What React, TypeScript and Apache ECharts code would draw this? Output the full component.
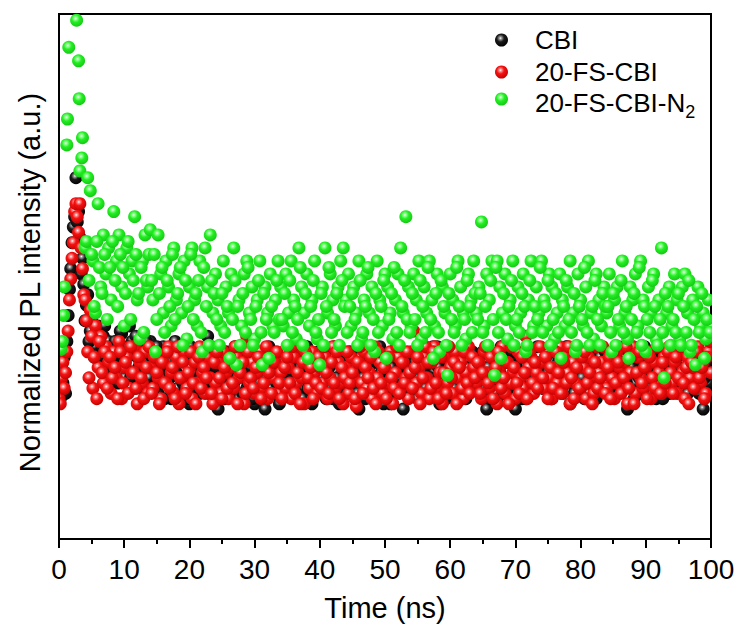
import React, { useEffect, useRef } from "react";
import * as echarts from "echarts";

// ---------- data ----------
const SERIES_NAMES = ["CBI", "20-FS-CBI", "20-FS-CBI-N2"];
const X_TICKS = [0, 10, 20, 30, 40, 50, 60, 70, 80, 90, 100];

// plateau sampling (ns): set A starts at 4.0 ns, set B at 4.2 ns, both every 0.4 ns
const PLATEAU_A_T0 = 4.0;
const PLATEAU_B_T0 = 4.2;
const PLATEAU_STEP = 0.4;

// early (rise) points [time ns, normalized intensity]
const CBI_EARLY = [
  [0, 29], [0.2, 27], [0.4, 33], [0.6, 30], [0.8, 35], [1.0, 28], [1.2, 38], [1.4, 43], [1.6, 48], [1.8, 52],
  [2.0, 57], [2.2, 60], [2.4, 62], [2.6, 69.5], [2.8, 61], [3.0, 63], [3.2, 58], [3.4, 51], [3.6, 54], [3.8, 49],
];
const FS_EARLY = [
  [0, 27], [0.2, 26], [0.4, 31], [0.6, 34], [0.8, 29], [1.0, 32], [1.2, 36], [1.4, 40], [1.6, 46], [1.8, 50],
  [2.0, 54], [2.2, 57], [2.4, 63], [2.6, 64.5], [2.8, 62], [3.0, 59], [3.2, 64.5], [3.4, 56], [3.6, 52], [3.8, 47],
];
const N2_EARLY = [
  [0.3, 36.5], [0.5, 38], [0.7, 43], [0.8, 48.5], [1.2, 75.8], [1.3, 80.8], [1.5, 94.6],
  [2.7, 99.8], [3.0, 92], [3.1, 84.7], [3.2, 70.8], [3.5, 73.3], [3.6, 77.2],
];

// set A: 4.0 ns .. 100.0 ns
const CBI_A = [
  42, 47, 40, 44, 37, 41, 35, 39, 33, 38, 36, 32, 38, 34, 39.5, 31, 36, 41, 38, 29, 35, 32, 37, 30, 34,
  38, 31, 35, 28, 33, 37, 30, 34, 27, 36, 32, 29, 35, 31, 38, 26, 33, 30, 36, 28, 34, 31, 39, 30, 33,
  29, 25, 34, 31, 36, 28, 33, 30, 35, 27, 32, 37, 29, 34, 31, 26, 35, 30, 33, 25, 36, 29, 32, 28, 34,
  31, 35, 28, 33, 30, 36, 27, 34, 32, 29, 37, 31, 26, 35, 30, 33, 28, 36, 31, 34, 27, 32, 35, 29, 33,
  30, 34, 28, 36, 31, 25, 33, 29, 35, 32, 27, 34, 30, 37, 28, 33, 31, 26, 35, 29, 32, 36, 25, 33, 30,
  34, 29, 36, 31, 27, 33, 30, 35, 28, 32, 37, 26, 34, 31, 29, 35, 33, 28, 36, 30, 32, 27, 34, 31, 35,
  31, 35, 28, 33, 25, 36, 30, 34, 27, 32, 37, 29, 34, 31, 28, 25, 35, 30, 33, 27, 36, 32, 29, 34, 31,
  33, 29, 36, 31, 27, 34, 30, 35, 28, 32, 37, 26, 33, 30, 35, 29, 31, 34, 28, 36, 32, 27, 35, 30, 33,
  30, 34, 28, 36, 32, 29, 35, 31, 25, 33, 37, 30, 34, 28, 32, 36, 29, 33, 31, 27, 35, 30, 34, 32, 28,
  33, 30, 35, 36.5, 31, 36.5, 28, 36, 32, 29, 34, 31, 25, 33, 30, 35,
];
const FS_A = [
  46, 36, 44, 29, 41, 33, 39, 30, 37, 34, 28, 36, 31, 38, 27, 33, 35, 29, 32, 37, 26, 34, 30, 36, 28,
  33, 29, 36, 31, 27, 34, 30, 37, 32, 28, 35, 26, 31, 36, 29, 33, 27, 34, 30, 37, 32, 28, 35, 31, 26,
  30, 34, 28, 36, 32, 27, 33, 29, 35, 31, 37, 26, 39, 30, 34, 28, 32, 36, 29, 33, 27, 35, 31, 34, 28,
  32, 36, 29, 33, 27, 35, 30, 37, 31, 26, 34, 29, 36, 32, 28, 33, 30, 35, 27, 31, 37, 29, 34, 30, 26,
  33, 28, 35, 31, 25.5, 34, 30, 36, 29, 32, 27, 37, 31, 34, 28, 33, 30, 36, 26, 32, 35, 29, 34, 31, 27,
  36, 40, 30, 33, 28, 35, 31, 27, 34, 37, 29, 32, 26, 35, 30, 33, 28, 36, 31, 34, 27, 32, 37, 29, 33,
  30, 34, 27, 36, 32, 29, 35, 31, 26, 33, 37, 28, 34, 30, 32, 27, 36, 31, 29, 39, 33, 35, 28, 32, 30,
  34, 29, 36, 31, 27, 33, 30, 37, 28, 35, 32, 26, 34, 30, 36, 29, 33, 27, 35, 31, 28, 37, 32, 34, 30,
  29, 35, 31, 27, 36, 33, 30, 34, 26, 32, 37, 28, 35, 31, 29, 33, 36, 27, 34, 30, 32, 28, 35, 31, 37,
  30, 34, 28, 36, 32, 27, 35, 31, 33, 29, 37, 30, 34, 28, 36, 32,
];
const N2_A = [
  56, 69.5, 67, 53.5, 43.5, 64.5, 48.5, 58.5, 51, 56, 46, 63, 53.5, 58.5, 48.5, 41, 56, 51, 53.5, 62, 46, 38.5, 53.5, 58.5, 48.5,
  59.5, 46, 36, 58.5, 51, 43.5, 53.5, 48.5, 41, 56, 46, 51, 43.5, 53.5, 38.5, 48.5, 56, 46, 41, 53.5, 36, 56, 48.5, 58.5, 43.5,
  51, 46, 41, 53.5, 48.5, 43.5, 51, 56, 33.5, 46, 41, 51, 53.5, 43.5, 48.5, 38.5, 46, 53.5, 33.5, 48.5, 43.5, 51, 41, 46, 53.5,
  48.5, 41, 51, 43.5, 53.5, 46, 38.5, 56, 48.5, 43.5, 51, 41, 46, 53.5, 38.5, 33.5, 48.5, 56, 43.5, 51, 46, 41, 48.5, 53.5, 56,
  46, 51, 41, 48.5, 43.5, 53.5, 38.5, 46, 51, 43.5, 48.5, 36, 53.5, 46, 41, 51, 48.5, 43.5, 38.5, 46, 51, 56, 43.5, 62, 48.5,
  41, 51, 46, 53.5, 38.5, 48.5, 43.5, 53.5, 46, 41, 51, 36, 48.5, 43.5, 31.5, 51, 46, 41, 53.5, 48.5, 43.5, 38.5, 51, 46, 53.5,
  43.5, 48.5, 61, 41, 51, 46, 53.5, 31.5, 53.5, 48.5, 43.5, 51, 38.5, 46, 53.5, 41, 48.5, 43.5, 51, 36, 46, 53.5, 41, 48.5, 43.5,
  53.5, 46, 41, 51, 48.5, 38.5, 43.5, 51, 46, 41, 48.5, 53.5, 43.5, 36, 51, 46, 41, 48.5, 53.5, 43.5, 38.5, 51, 46, 41, 48.5,
  43.5, 51, 36, 46, 48.5, 41, 53.5, 43.5, 38.5, 48.5, 46, 51, 41, 53.5, 46, 36, 48.5, 43.5, 51, 38.5, 46, 56, 31, 43.5, 48.5,
  41, 51, 46, 38.5, 48.5, 51, 43.5, 36, 46, 33.5, 48.5, 41, 43.5, 38.5, 46, 41,
];

// set B: 4.2 ns .. 99.8 ns
const CBI_B = [
  45, 38, 42, 35, 40, 33, 37, 41, 31, 36, 34, 38, 30, 40, 35, 33, 37, 31, 36, 39, 33, 29, 36, 38, 31,
  35, 29, 37, 32, 34, 27, 36, 31, 33, 38, 29, 35, 30, 34, 27, 37, 32, 29, 35, 31, 36, 33, 28, 37, 30,
  33, 36, 30, 27, 35, 32, 29, 37, 31, 34, 28, 36, 30, 33, 27, 35, 32, 29, 34, 31, 37, 28, 35, 30, 26,
  34, 30, 36, 32, 28, 35, 31, 33, 27, 37, 29, 34, 32, 28, 36, 30, 35, 27, 33, 29, 37, 31, 26, 34, 30,
  32, 36, 29, 33, 28, 35, 31, 27, 37, 30, 34, 29, 36, 32, 26, 35, 30, 33, 28, 37, 31, 34, 29, 35, 32,
  30, 34, 27, 36, 32, 29, 35, 31, 37, 28, 33, 30, 36, 27, 34, 31, 29, 35, 32, 37, 28, 33, 30, 36, 29,
  34, 31, 36, 29, 33, 27, 35, 32, 30, 37, 28, 34, 31, 36, 29, 33, 30, 27, 35, 32, 28, 34, 31, 37, 30,
  29, 35, 32, 27, 36, 31, 34, 29, 33, 37, 30, 35, 28, 32, 36, 31, 27, 34, 30, 37, 33, 29, 35, 31, 36,
  32, 28, 35, 31, 37, 29, 34, 30, 36, 33, 27, 35, 31, 29, 37, 32, 34, 28, 36, 30, 33, 27, 35, 31, 34,
  30, 36, 33, 37, 31, 36.5, 34, 36, 30, 33, 28, 35, 31, 34, 36,
];
const FS_B = [
  42, 31, 39, 35, 27, 38, 32, 36, 29, 35, 31, 33, 27, 36, 30, 34, 28, 37, 32, 29, 35, 31, 27, 33, 37,
  28, 35, 32, 26, 34, 30, 36, 29, 33, 27, 37, 31, 34, 28, 32, 36, 30, 26, 35, 29, 33, 31, 37, 28, 34,
  36, 31, 27, 33, 29, 35, 30, 37, 26, 32, 34, 28, 36, 31, 29, 33, 35, 27, 30, 37, 32, 28, 34, 36, 30,
  27, 33, 35, 30, 37, 28, 32, 26, 34, 36, 31, 33, 27, 30, 35, 29, 37, 32, 28, 34, 30, 36, 27, 33, 31,
  36, 30, 32, 27, 34, 37, 28, 33, 31, 35, 29, 26, 36, 30, 33, 27, 35, 31, 29, 37, 28, 34, 30, 36, 32,
  29, 33, 35, 26, 31, 37, 34, 29, 36, 30, 27, 35, 32, 28, 37, 31, 34, 26, 33, 29, 36, 30, 28, 35, 31,
  34, 28, 32, 37, 30, 35, 27, 33, 36, 29, 31, 34, 26, 37, 33, 30, 28, 35, 32, 27, 36, 30, 34, 29, 37,
  31, 35, 27, 33, 29, 36, 32, 28, 34, 30, 37, 31, 27, 33, 29, 35, 36, 30, 32, 26, 34, 29, 31, 37, 28,
  33, 27, 36, 30, 34, 28, 31, 37, 29, 35, 26, 32, 36, 30, 33, 27, 35, 31, 29, 37, 28, 34, 30, 36, 32,
  28, 35, 31, 37, 30, 33, 26, 34, 29, 36, 31, 33, 27, 35, 38,
];
const N2_B = [
  57.25, 49.75, 54.75, 44.75, 57.25, 52.25, 47.25, 54.75, 42.25, 52.25, 57.25, 49.75, 44.75, 54.75, 52.25, 47.25, 57.25, 42.25, 49.75, 54.75, 47.25, 52.25, 39.75, 49.75, 54.75,
  49.75, 54.75, 42.25, 47.25, 52.25, 39.75, 49.75, 44.75, 54.75, 42.25, 47.25, 52.25, 37.25, 49.75, 44.75, 54.75, 42.25, 47.25, 49.75, 39.75, 52.25, 44.75, 37.25, 49.75, 47.25,
  42.25, 37.25, 47.25, 39.75, 44.75, 34.75, 42.25, 49.75, 44.75, 37.25, 47.25, 39.75, 52.25, 42.25, 37.25, 44.75, 49.75, 39.75, 47.25, 42.25, 34.75, 44.75, 39.75, 49.75, 42.25,
  42.25, 47.25, 37.25, 49.75, 39.75, 44.75, 42.25, 52.25, 37.25, 47.25, 34.75, 44.75, 49.75, 39.75, 42.25, 47.25, 37.25, 44.75, 52.25, 39.75, 42.25, 47.25, 37.25, 49.75, 44.75,
  39.75, 44.75, 47.25, 42.25, 37.25, 49.75, 39.75, 44.75, 52.25, 37.25, 42.25, 47.25, 39.75, 44.75, 49.75, 34.75, 42.25, 47.25, 52.25, 39.75, 37.25, 44.75, 49.75, 42.25, 39.75,
  47.25, 42.25, 37.25, 49.75, 44.75, 39.75, 52.25, 42.25, 34.75, 47.25, 39.75, 49.75, 44.75, 37.25, 47.25, 42.25, 39.75, 52.25, 44.75, 37.25, 42.25, 49.75, 44.75, 39.75, 47.25,
  42.25, 47.25, 39.75, 44.75, 37.25, 49.75, 42.25, 52.25, 39.75, 34.75, 47.25, 42.25, 44.75, 49.75, 37.25, 42.25, 39.75, 47.25, 44.75, 37.25, 49.75, 39.75, 44.75, 42.25, 52.25,
  39.75, 44.75, 49.75, 37.25, 42.25, 47.25, 39.75, 34.75, 44.75, 49.75, 42.25, 39.75, 47.25, 37.25, 44.75, 42.25, 52.25, 39.75, 37.25, 44.75, 49.75, 42.25, 37.25, 47.25, 44.75,
  44.75, 39.75, 47.25, 37.25, 42.25, 49.75, 39.75, 44.75, 34.75, 42.25, 47.25, 39.75, 52.25, 37.25, 44.75, 42.25, 39.75, 49.75, 44.75, 37.25, 42.25, 39.75, 47.25, 44.75, 37.25,
  42.25, 39.75, 47.25, 37.25, 44.75, 39.75, 49.75, 37.25, 42.25, 44.75, 39.75, 47.25, 34.75, 42.25, 39.75,
];

const FONT = "'Liberation Sans', Arial, Helvetica, sans-serif";

function sampled(values: number[], t0: number) {
  return values.map((v, i) => [Math.round((t0 + PLATEAU_STEP * i) * 10) / 10, v]);
}
function buildSeriesData(early: number[][], a: number[], b: number[]) {
  return [...early, ...sampled(a, PLATEAU_A_T0), ...sampled(b, PLATEAU_B_T0)];
}

function sphere(stops: [number, string][]) {
  return new echarts.graphic.RadialGradient(
    0.42,
    0.36,
    0.68,
    stops.map(([offset, color]) => ({ offset, color }))
  );
}

export default function App() {
  const ref = useRef<HTMLDivElement>(null);

  useEffect(() => {
    if (!ref.current) return;
    const chart = echarts.init(ref.current, null, { renderer: "svg" });

    const colBlack = sphere([
      [0, "#ffffff"],
      [0.14, "#9a9a9a"],
      [0.42, "#1a1a1a"],
      [1, "#000000"],
    ]);
    const colRed = sphere([
      [0, "#ffffff"],
      [0.16, "#ff8a8a"],
      [0.42, "#f51212"],
      [1, "#c00000"],
    ]);
    const colGreen = sphere([
      [0, "#f0fff0"],
      [0.18, "#8aff8a"],
      [0.45, "#22ee22"],
      [1, "#16c416"],
    ]);
    const colors = [colBlack, colRed, colGreen];
    const datas = [
      buildSeriesData(CBI_EARLY, CBI_A, CBI_B),
      buildSeriesData(FS_EARLY, FS_A, FS_B),
      buildSeriesData(N2_EARLY, N2_A, N2_B),
    ];

    const legendText = {
      fontSize: 26,
      fontFamily: FONT,
      color: "#000",
      lineHeight: 26,
      padding: [0, 0, 0, 22],
    };
    const legendCenters = [35, 67, 99];
    const baseLegend = {
      left: 490,
      icon: "circle",
      itemWidth: 13,
      itemHeight: 13,
      selectedMode: false,
      textStyle: legendText,
    };

    const option: any = {
      animation: false,
      backgroundColor: "#ffffff",
      grid: {
        left: 59,
        right: 29,
        top: 14,
        bottom: 95,
        show: true,
        borderColor: "#000",
        borderWidth: 2,
        backgroundColor: "transparent",
      },
      graphic: [
        { type: "rect", z: 6, silent: true, shape: { x: 0, y: 0, width: 58, height: 539 }, style: { fill: "#fff" } },
        { type: "rect", z: 6, silent: true, shape: { x: 712, y: 0, width: 28, height: 539 }, style: { fill: "#fff" } },
      ],
      legend: [
        { ...baseLegend, data: [SERIES_NAMES[0]], top: legendCenters[0] - 13 },
        { ...baseLegend, data: [SERIES_NAMES[1]], top: legendCenters[1] - 13 },
        {
          ...baseLegend,
          data: [SERIES_NAMES[2]],
          top: legendCenters[2] - 18,
          formatter: () => "{m|20-FS-CBI-N}{s|2}",
          textStyle: {
            ...legendText,
            lineHeight: undefined,
            rich: {
              m: { fontSize: 26, fontFamily: FONT, color: "#000", lineHeight: 26, padding: [4, 0, 4, 0], verticalAlign: "top" },
              s: { fontSize: 18, fontFamily: FONT, color: "#000", lineHeight: 18, padding: [17, 0, 0, 0], verticalAlign: "top" },
            },
          },
        },
      ],
      xAxis: {
        type: "value",
        z: 10,
        min: X_TICKS[0],
        max: X_TICKS[X_TICKS.length - 1],
        interval: 10,
        name: "Time (ns)",
        nameLocation: "middle",
        nameGap: 54,
        nameTextStyle: { fontSize: 29, fontFamily: FONT, color: "#000" },
        axisLine: { show: true, lineStyle: { color: "#000", width: 2 } },
        axisTick: { show: true, inside: false, length: 9, lineStyle: { color: "#000", width: 2 } },
        minorTick: { show: true, splitNumber: 2, length: 5, lineStyle: { color: "#000", width: 2 } },
        axisLabel: { fontSize: 28, fontFamily: FONT, color: "#000", margin: 16 },
        splitLine: { show: false },
      },
      yAxis: {
        type: "value",
        z: 10,
        min: 0,
        max: 101,
        name: "Normalized PL intensity (a.u.)",
        nameLocation: "middle",
        nameGap: 15,
        nameTextStyle: { fontSize: 29, fontFamily: FONT, color: "#000", padding: [0, 12, 0, 0] },
        axisLine: { show: true, lineStyle: { color: "#000", width: 2 } },
        axisTick: { show: false },
        axisLabel: { show: false },
        splitLine: { show: false },
      },
      series: SERIES_NAMES.map((name, i) => ({
        name,
        type: "scatter",
        data: datas[i],
        symbol: "circle",
        symbolSize: 13,
        itemStyle: { color: colors[i], opacity: 1 },
        emphasis: { disabled: true },
        z: 2 + i,
      })),
    };

    chart.setOption(option);
    return () => chart.dispose();
  }, []);

  return (
    <div
      ref={ref}
      style={{ position: "fixed", left: 0, top: 0, width: 740, height: 634, background: "#fff" }}
    />
  );
}
